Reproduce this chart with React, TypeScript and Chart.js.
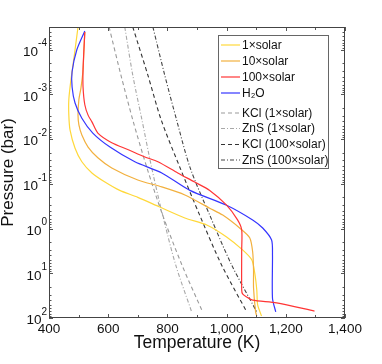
import { useEffect, useRef } from "react";
import { Chart, registerables } from "chart.js";

Chart.register(...registerables);

// ---- Data (Temperature in K, Pressure in bar) ----
const solar1T = [498, 488, 474, 467, 467, 471, 488, 511, 545, 589, 639, 700, 774, 859, 933, 1000, 1054, 1085, 1095, 1102, 1105, 1118];
const solar1P = [3.1e-5, 1.0e-4, 4.8e-4, 1.3e-3, 2.9e-3, 6.2e-3, 1.6e-2, 3.2e-2, 5.7e-2, 9.1e-2, 0.14, 0.2, 0.33, 0.58, 0.83, 1.54, 3.0, 5.0, 9.8, 23.7, 51, 90];

const solar10T = [521, 518, 515, 508, 501, 498, 501, 511, 532, 565, 612, 700, 781, 859, 943, 987, 1044, 1078, 1088, 1091, 1091, 1098, 1102];
const solar10P = [4.0e-5, 1.0e-4, 2.8e-4, 7.1e-4, 1.3e-3, 2.9e-3, 4.8e-3, 8.1e-3, 1.5e-2, 2.6e-2, 4.4e-2, 8.2e-2, 0.117, 0.177, 0.35, 0.5, 0.97, 1.6, 3.3, 8.5, 21, 73, 90];

const solar100T = [521, 518, 515, 515, 521, 532, 545, 565, 612, 666, 724, 768, 835, 892, 943, 1000, 1037, 1051, 1051, 1051, 1054, 1068, 1088, 1169, 1297];
const solar100P = [4.0e-5, 1.0e-4, 2.8e-4, 6.8e-4, 1.7e-3, 2.9e-3, 4.1e-3, 7.3e-3, 1.2e-2, 1.7e-2, 2.5e-2, 3.2e-2, 5.7e-2, 9.1e-2, 0.14, 0.3, 0.64, 1.07, 3.0, 23.7, 29, 34, 40, 46, 70];

const h2oT = [521, 494, 478, 478, 488, 511, 548, 606, 690, 781, 876, 1000, 1088, 1122, 1152, 1155, 1155, 1166];
const h2oP = [3.8e-5, 1.0e-4, 3.1e-4, 6.8e-4, 1.55e-3, 3.4e-3, 7.3e-3, 1.5e-2, 3.2e-2, 5.7e-2, 0.14, 0.3, 0.64, 0.97, 1.8, 3.9, 36, 73];

const condP = [3.1e-5, 3.7e-4, 3.7e-3, 4.4e-2, 0.5, 6.5, 73];
const kcl1T = [603, 643, 683, 731, 784, 849, 919];
const zns1T = [656, 683, 714, 747, 784, 828, 882];
const kcl100T = [683, 734, 779, 843, 909, 983, 1068];
const zns100T = [751, 791, 831, 877, 943, 1017, 1102];

const xTickValues = [400, 600, 800, 1000, 1200, 1400];
const yTickValues = [1e-4, 1e-3, 1e-2, 1e-1, 1e0, 1e1, 1e2];
const yTickBase = "10";
const yTickExponents = ["-4", "-3", "-2", "-1", "0", "1", "2"];

const FONT = "'Liberation Sans', Arial, Helvetica, sans-serif";

function pts(T: number[], P: number[]) {
  return T.map((t, i) => ({ x: t, y: P[i] }));
}

const framePlugin = {
  id: "frameTicks",
  afterDatasetsDraw(chart: any) {
    const { ctx, chartArea, scales } = chart;
    const { left, right, top, bottom } = chartArea;
    const x = scales.x;
    const y = scales.y;
    ctx.save();
    ctx.strokeStyle = "#555";
    ctx.lineWidth = 1;
    ctx.beginPath();
    for (let v = x.min; v <= x.max; v += 100) {
      const px = Math.round(x.getPixelForValue(v)) + 0.5;
      const len = v % 200 === 0 ? 4 : 3;
      ctx.moveTo(px, bottom);
      ctx.lineTo(px, bottom - len);
      ctx.moveTo(px, top);
      ctx.lineTo(px, top + len);
    }
    for (let d = -5; d <= 2; d++) {
      for (let m = 1; m <= 9; m++) {
        const v = m * Math.pow(10, d);
        if (v < y.min || v > y.max) continue;
        const py = Math.round(y.getPixelForValue(v)) + 0.5;
        const len = m === 1 ? 4 : 2.5;
        ctx.moveTo(left, py);
        ctx.lineTo(left + len, py);
        ctx.moveTo(right, py);
        ctx.lineTo(right - len, py);
      }
    }
    ctx.stroke();
    ctx.strokeStyle = "#444";
    ctx.strokeRect(left + 0.5, top + 0.5, right - left - 1, bottom - top - 1);

    // y tick labels as 10 with superscript exponent
    ctx.fillStyle = "#111";
    yTickValues.forEach((v, i) => {
      const py = y.getPixelForValue(v);
      ctx.font = `10px ${FONT}`;
      const exp = yTickExponents[i];
      const we = ctx.measureText(exp).width;
      const xr = left - 2;
      ctx.textAlign = "left";
      ctx.textBaseline = "middle";
      ctx.fillText(exp, xr - we, py - 6);
      ctx.font = `13.5px ${FONT}`;
      ctx.textAlign = "right";
      ctx.fillText(yTickBase, xr - we, py + 2.5);
    });
    ctx.restore();
  },
};

const legendPlugin = {
  id: "insideLegend",
  afterDraw(chart: any) {
    const { ctx } = chart;
    const ds = chart.data.datasets;
    const bx = 218.5, by = 35.5, bw = 110, bh = 133;
    ctx.save();
    ctx.fillStyle = "#fff";
    ctx.fillRect(bx, by, bw, bh);
    ctx.strokeStyle = "#666";
    ctx.lineWidth = 1;
    ctx.strokeRect(bx, by, bw, bh);
    const rows = [45, 61, 77, 93, 113, 128.5, 144.5, 160];
    ctx.font = `12px ${FONT}`;
    ctx.textBaseline = "middle";
    ds.forEach((d: any, i: number) => {
      const yy = rows[i];
      ctx.beginPath();
      ctx.strokeStyle = d.borderColor;
      ctx.lineWidth = d.borderWidth;
      ctx.setLineDash(d.borderDash || []);
      ctx.moveTo(221, yy);
      ctx.lineTo(240, yy);
      ctx.stroke();
      ctx.setLineDash([]);
      ctx.fillStyle = "#111";
      ctx.fillText(d.label, 242, yy + 0.5);
    });
    ctx.restore();
  },
};

export default function App() {
  const ref = useRef<HTMLCanvasElement | null>(null);
  useEffect(() => {
    if (!ref.current) return;
    Chart.defaults.font.family = FONT;
    const solid = (label: string, T: number[], P: number[], color: string, order: number) => ({
      label,
      data: pts(T, P),
      borderColor: color,
      borderWidth: 1.2,
      showLine: true,
      pointRadius: 0,
      tension: 0.25,
      fill: false,
      order,
    });
    const dashed = (label: string, T: number[], color: string, dash: number[]) => ({
      label,
      data: pts(T, condP),
      borderColor: color,
      borderWidth: 1.1,
      borderDash: dash,
      showLine: true,
      pointRadius: 0,
      tension: 0.3,
      fill: false,
      order: 5,
    });
    const chart = new Chart(ref.current, {
      type: "scatter",
      data: {
        datasets: [
          solid("1×solar", solar1T, solar1P, "#FFD83A", 3),
          solid("10×solar", solar10T, solar10P, "#F2B03E", 2),
          solid("100×solar", solar100T, solar100P, "#FF3535", 0),
          solid("H₂O", h2oT, h2oP, "#3535FF", 1),
          dashed("KCl (1×solar)", kcl1T, "#9a9a9a", [4, 3]),
          dashed("ZnS (1×solar)", zns1T, "#a8a8a8", [4, 2, 1, 2]),
          dashed("KCl (100×solar)", kcl100T, "#333", [4, 3]),
          dashed("ZnS (100×solar)", zns100T, "#444", [4, 2, 1, 2]),
        ] as any,
      },
      options: {
        animation: false,
        responsive: false,
        layout: { padding: { top: 27, right: 37, left: 0, bottom: 0 } },
        plugins: { legend: { display: false }, tooltip: { enabled: false } },
        scales: {
          x: {
            type: "linear",
            min: 400,
            max: 1400,
            afterBuildTicks: (s: any) => {
              s.ticks = xTickValues.map((v) => ({ value: v }));
            },
            afterFit: (s: any) => {
              s.height = 46;
            },
            ticks: {
              color: "#111",
              font: { size: 13.5 },
              padding: 3,
              maxRotation: 0,
              autoSkip: false,
              callback: (v: any) => Number(v).toLocaleString("en-US"),
            },
            grid: { display: false, drawTicks: false },
            border: { display: false },
            title: {
              display: true,
              text: "Temperature (K)",
              color: "#111",
              font: { size: 17.5, lineHeight: 1 },
              padding: { top: 0, bottom: 12 },
            },
          },
          y: {
            type: "logarithmic",
            reverse: true,
            min: 3.1e-5,
            max: 100,
            afterBuildTicks: (s: any) => {
              s.ticks = yTickValues.map((v) => ({ value: v }));
            },
            afterFit: (s: any) => {
              s.width = 49;
            },
            ticks: { display: false },
            grid: { display: false, drawTicks: false },
            border: { display: false },
            title: {
              display: true,
              text: "Pressure (bar)",
              color: "#111",
              font: { size: 17, lineHeight: 1 },
              padding: { top: 0, bottom: 0 },
            },
          },
        },
      },
      plugins: [framePlugin, legendPlugin],
    });
    return () => chart.destroy();
  }, []);
  return (
    <div style={{ position: "fixed", left: 0, top: 0, width: 382, height: 364, background: "#fff" }}>
      <canvas ref={ref} width={382} height={364} style={{ display: "block" }} />
    </div>
  );
}
